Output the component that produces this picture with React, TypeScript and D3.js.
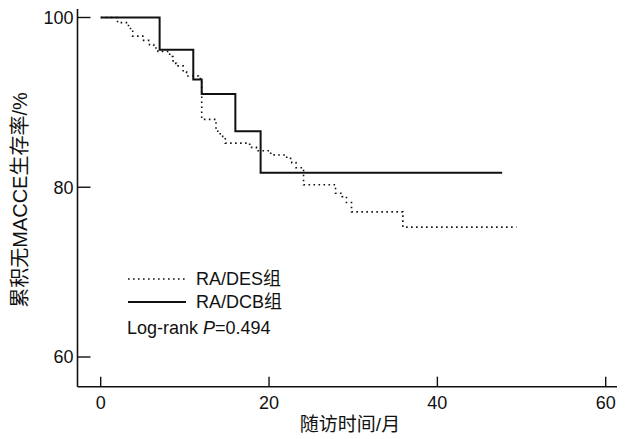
import React from "react";
import * as d3 from "d3";

const desTime = [0, 2.0, 3.3, 3.8, 5.0, 5.8, 6.3, 6.8, 8.2, 8.6, 9.0, 9.8, 10.2, 11.6, 12.0, 13.7, 14.2, 14.8, 17.7, 18.5, 20.1, 20.6, 22.1, 22.7, 23.2, 24.1, 27.9, 28.7, 29.2, 29.8, 35.9, 49.4];
const desSurv = [100, 99.4, 98.7, 97.8, 97.3, 96.8, 96.4, 96.0, 95.4, 94.6, 94.3, 93.6, 93.1, 92.8, 88.0, 86.6, 86.0, 85.2, 84.7, 84.3, 84.0, 83.8, 83.4, 82.9, 82.3, 80.3, 79.3, 78.9, 78.2, 77.1, 75.3, 75.3];

const dcbTime = [0, 7, 11, 12, 16, 19, 47.7];
const dcbSurv = [100, 96.2, 92.7, 91.0, 86.6, 81.7, 81.7];

const xTicks = [0, 20, 40, 60];
const yTicks = [60, 80, 100];

const seriesNames = ["RA/DES组", "RA/DCB组"];
const statText = "Log-rank ";
const statP = "P";
const statVal = "=0.494";
const xTitle = "随访时间/月";
const yTitle = "累积无MACCE生存率/%";

export default function App() {
  const x = d3.scaleLinear().domain([0, 60]).range([100.7, 605.7]);
  const y = d3.scaleLinear().domain([60, 100]).range([357, 17.5]);
  const axX = 77.5;
  const axY = 386.7;
  const line = d3
    .line<[number, number]>()
    .x((d) => x(d[0]))
    .y((d) => y(d[1]))
    .curve(d3.curveStepAfter);
  const des = desTime.map((t, i) => [t, desSurv[i]] as [number, number]);
  const dcb = dcbTime.map((t, i) => [t, dcbSurv[i]] as [number, number]);
  const font = "'Liberation Sans', Arial, 'Noto Sans CJK SC', sans-serif";
  const col = "#111";
  return (
    <svg
      width={628}
      height={439}
      style={{ position: "absolute", left: 0, top: 0, background: "#fff" }}
      fontFamily={font}
    >
      <rect width={628} height={439} fill="#fff" />
      {/* axes */}
      <line x1={axX} x2={axX} y1={9} y2={axY} stroke={col} strokeWidth={1.6} />
      <line x1={axX} x2={617} y1={axY} y2={axY} stroke={col} strokeWidth={1.6} />
      {yTicks.map((t) => (
        <g key={"y" + t}>
          <line x1={axX} x2={axX + 13} y1={y(t)} y2={y(t)} stroke={col} strokeWidth={1.4} />
          <text x={axX - 4} y={y(t)} dy="0.35em" textAnchor="end" fontSize={18} fill={col}>
            {t}
          </text>
        </g>
      ))}
      {xTicks.map((t) => (
        <g key={"x" + t}>
          <line x1={x(t)} x2={x(t)} y1={axY} y2={axY - 10} stroke={col} strokeWidth={1.4} />
          <text x={x(t)} y={axY + 22} textAnchor="middle" fontSize={18} fill={col}>
            {t}
          </text>
        </g>
      ))}
      <text x={350} y={431} textAnchor="middle" fontSize={19} fill={col}>
        {xTitle}
      </text>
      <text
        transform={`translate(27,200) rotate(-90)`}
        textAnchor="middle"
        fontSize={20}
        fill={col}
      >
        {yTitle}
      </text>
      {/* curves */}
      <path d={line(des) || ""} fill="none" stroke={col} strokeWidth={1.6} strokeDasharray="1.6,3.4" />
      <path d={line(dcb) || ""} fill="none" stroke={col} strokeWidth={2} />
      {/* legend */}
      <line x1={128} x2={186} y1={279} y2={279} stroke={col} strokeWidth={1.6} strokeDasharray="1.6,3.4" />
      <text x={196} y={279} dy="0.35em" fontSize={18} fill={col}>
        {seriesNames[0]}
      </text>
      <line x1={128} x2={186} y1={302} y2={302} stroke={col} strokeWidth={1.8} />
      <text x={196} y={302} dy="0.35em" fontSize={18} fill={col}>
        {seriesNames[1]}
      </text>
      <text x={127} y={328} dy="0.35em" fontSize={18} fill={col}>
        {statText}
        <tspan fontStyle="italic">{statP}</tspan>
        {statVal}
      </text>
    </svg>
  );
}
